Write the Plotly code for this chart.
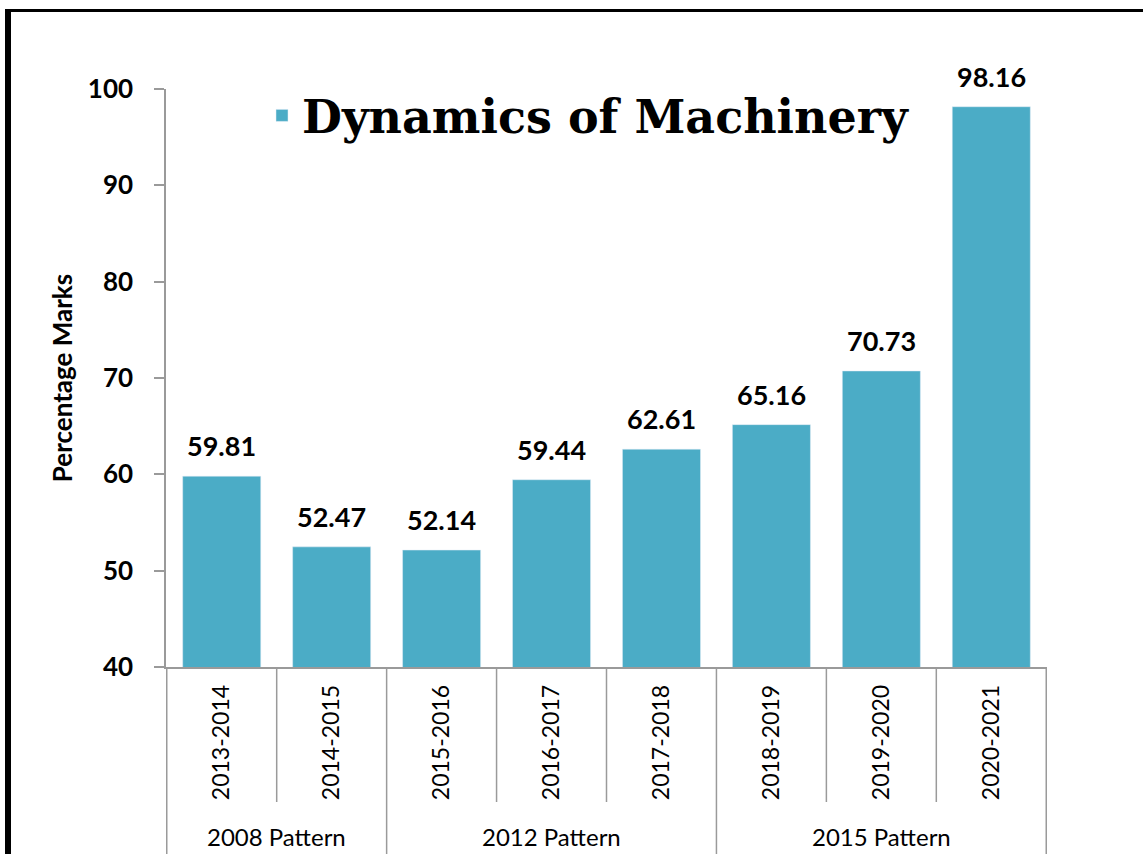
import plotly.graph_objects as go

# ---- data ----
years = ["2013-2014", "2014-2015", "2015-2016", "2016-2017",
         "2017-2018", "2018-2019", "2019-2020", "2020-2021"]
marks = [59.81, 52.47, 52.14, 59.44, 62.61, 65.16, 70.73, 98.16]
groups = ["2008 Pattern", "2012 Pattern", "2015 Pattern"]
group_sizes = [2, 3, 3]
series_name = "Dynamics of Machinery"

# ---- layout constants ----
W, H = 1143, 854
ML, MR, MT, MB = 166, 96, 89, 187
PW, PH = W - ML - MR, H - MT - MB
BAR = "#4BACC6"
GRAY = "#9a9a9a"
FONT = "Lato"


def px(p):
    return (p - ML) / PW


def py(p):
    return (H - MB - p) / PH


fig = go.Figure()
fig.add_trace(go.Bar(x=years, y=marks, name=series_name, marker_color=BAR,
                     showlegend=True))

annotations = []
for x, v in zip(years, marks):
    annotations.append(dict(x=x, y=v, xref="x", yref="y", text=f"<b>{v:.2f}</b>",
                            showarrow=False, yanchor="bottom", yshift=12,
                            font=dict(family=FONT, size=27, color="black")))

shapes = []
# category boundaries
start = 0
boundaries_group = {-0.5}
for s in group_sizes:
    start += s
    boundaries_group.add(start - 0.5)
for i in range(len(years) + 1):
    b = i - 0.5
    y1 = py(H) if b in boundaries_group else py(802)
    shapes.append(dict(type="line", xref="x", yref="paper", x0=b, x1=b,
                       y0=0, y1=y1, line=dict(color=GRAY, width=1.5)))

# group labels
start = 0
for g, s in zip(groups, group_sizes):
    center = start + (s - 1) / 2
    annotations.append(dict(x=center, y=py(836), xref="x", yref="paper",
                            text=g, showarrow=False, yanchor="middle",
                            font=dict(family=FONT, size=24, color="black")))
    start += s

# black frame (left and top)
shapes.append(dict(type="line", xref="paper", yref="paper",
                   x0=px(8), x1=px(8), y0=py(9), y1=py(H + 5),
                   line=dict(color="black", width=6)))
shapes.append(dict(type="line", xref="paper", yref="paper",
                   x0=px(5), x1=px(W + 5), y0=py(10.5), y1=py(10.5),
                   line=dict(color="black", width=3)))

fig.update_layout(
    width=W, height=H,
    margin=dict(l=ML, r=MR, t=MT, b=MB, autoexpand=False),
    paper_bgcolor="white", plot_bgcolor="white",
    bargap=0.29,
    showlegend=True,
    legend=dict(x=px(262), y=py(115.5), xanchor="left", yanchor="middle",
                bgcolor="rgba(0,0,0,0)",
                font=dict(family="DejaVu Serif", size=46, weight="bold",
                          color="black")),
    annotations=annotations,
    shapes=shapes,
    xaxis=dict(type="category", showline=True, linecolor=GRAY, linewidth=1.5,
               ticks="", tickangle=-90, showgrid=False, zeroline=False,
               ticklabelstandoff=7,
               tickfont=dict(family=FONT, size=23, color="black")),
    yaxis=dict(range=[40, 100], dtick=10, showline=True, linecolor=GRAY,
               linewidth=1.5, ticks="outside", ticklen=10, tickwidth=1.5,
               tickcolor=GRAY, showgrid=False, zeroline=False,
               ticklabelstandoff=16,
               tickfont=dict(family=FONT, size=26, color="black", weight="bold"),
               title=dict(text="Percentage Marks", standoff=8,
                          font=dict(family=FONT, size=26, color="black",
                                    weight="bold"))),
)

fig.write_html("out.html",
               config={"displayModeBar": False},
               post_script="document.body.style.margin='0';"
                           "document.body.style.overflow='hidden';")
